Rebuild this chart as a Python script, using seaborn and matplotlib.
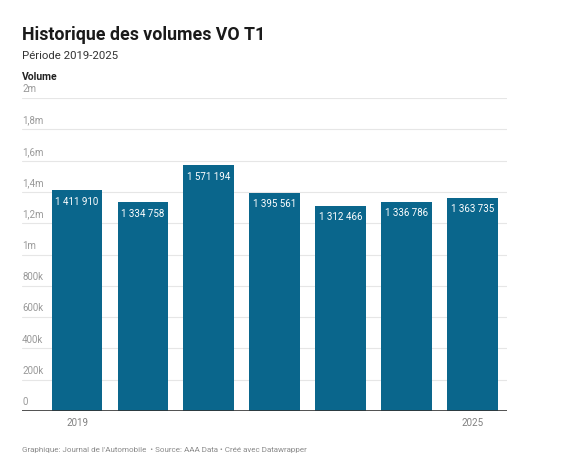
import matplotlib
matplotlib.use("Agg")
import matplotlib.pyplot as plt
import matplotlib.transforms as mtransforms
import seaborn as sns
import pandas as pd

years = ["2019", "2020", "2021", "2022", "2023", "2024", "2025"]
volumes = [1411910, 1334758, 1571194, 1395561, 1312466, 1336786, 1363735]
y_ticks = [0, 200000, 400000, 600000, 800000, 1000000, 1200000, 1400000, 1600000, 1800000, 2000000]
y_tick_labels = ["0", "200k", "400k", "600k", "800k", "1m", "1,2m", "1,4m", "1,6m", "1,8m", "2m"]
shown_years = ["2019", "2025"]

sns.set_theme(style="white")
plt.rcParams["font.family"] = ["Roboto", "DejaVu Sans"]

df = pd.DataFrame({"year": years, "volume": volumes})

W, H = 563, 477
fig = plt.figure(figsize=(W / 100, H / 100), dpi=100)
left, right, top, bottom = 22, 507, 99, 412
ax = fig.add_axes([left / W, (H - bottom) / H, (right - left) / W, (bottom - top) / H])

bar_color = "#0a668c"
sns.barplot(data=df, x="year", y="volume", color=bar_color, width=0.77,
            saturation=1, edgecolor=bar_color, linewidth=0, ax=ax, zorder=3)

ax.set_ylim(0, 2000000)
ax.set_xlim(-0.835, 6.525)

# gridlines
for t in y_ticks[1:]:
    ax.axhline(t, color="#e6e6e6", lw=0.8, zorder=1)
ax.axhline(0, color="#333333", lw=1.2, zorder=4)

for s in ax.spines.values():
    s.set_visible(False)

ax.set_yticks([])
trans = mtransforms.blended_transform_factory(ax.transAxes, ax.transData)
for t, lab in zip(y_ticks, y_tick_labels):
    ax.annotate(lab, xy=(0, t), xycoords=trans, xytext=(0, 3.5), textcoords="offset points",
                ha="left", va="bottom", fontsize=7, color="#999999")

idx = [years.index(y) for y in shown_years]
ax.set_xticks(idx)
ax.set_xticklabels(shown_years, fontsize=7, color="#808080")
ax.tick_params(axis="x", length=0, pad=4)
ax.set_xlabel("")
ax.set_ylabel("")

# value labels
for i, v in enumerate(volumes):
    lab = "{:,}".format(v).replace(",", " ")
    ax.annotate(lab, xy=(i, v), xytext=(0, -4), textcoords="offset points",
                ha="center", va="top", fontsize=7, color="white", zorder=5)

fig.text(22 / W, 1 - 40 / H, "Historique des volumes VO T1", fontsize=12.8,
         fontweight="bold", color="#1a1a1a", ha="left", va="baseline")
fig.text(22 / W, 1 - 59 / H, "Période 2019-2025", fontsize=8.2,
         color="#333333", ha="left", va="baseline")
fig.text(22 / W, 1 - 80 / H, "Volume", fontsize=7.5, fontweight="bold",
         color="#222222", ha="left", va="baseline")
fig.text(22 / W, 1 - 452 / H,
         "Graphique: Journal de l'Automobile  • Source: AAA Data • Créé avec Datawrapper",
         fontsize=5.8, color="#8a8a8a", ha="left", va="baseline")

fig.savefig("out.png", dpi=100, facecolor="white")
